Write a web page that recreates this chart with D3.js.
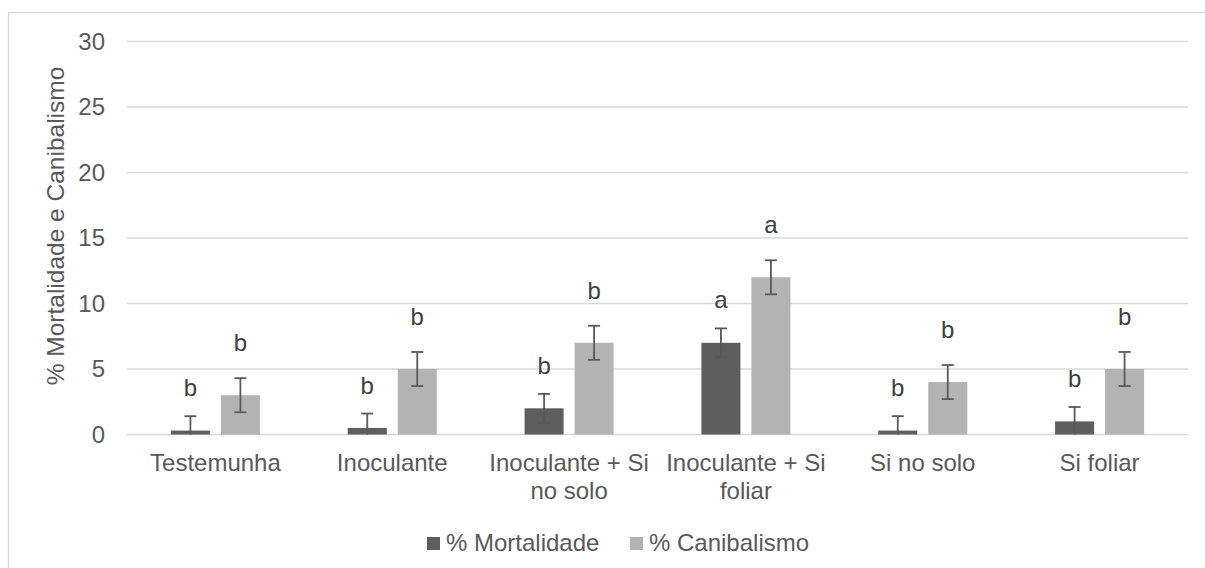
<!DOCTYPE html>
<html>
<head>
<meta charset="utf-8">
<script src="https://cdn.jsdelivr.net/npm/d3@7"></script>
<style>
  html, body { margin: 0; padding: 0; background: #fff; }
  svg { display: block; font-family: "Liberation Sans", Arial, sans-serif; }
</style>
</head>
<body>
<svg id="chart" width="1205" height="568"></svg>
<script>
// Treatments (x-axis categories); "\n" breaks a label onto two lines
const categories = ["Testemunha", "Inoculante", "Inoculante + Si\nno solo", "Inoculante + Si\nfoliar", "Si no solo", "Si foliar"];
const seriesNames = ["% Mortalidade", "% Canibalismo"];

// Means
const mortalidade = [0.3, 0.5, 2, 7, 0.3, 1];
const canibalismo = [3, 5, 7, 12, 4, 5];

// Error bar half-widths
const mortalidadeErr = [1.1, 1.1, 1.1, 1.1, 1.1, 1.1];
const canibalismoErr = [1.3, 1.3, 1.3, 1.3, 1.3, 1.3];

// Significance letters
const mortalidadeLetters = ["b", "b", "b", "a", "b", "b"];
const canibalismoLetters = ["b", "b", "b", "a", "b", "b"];

const yTicks = [0, 5, 10, 15, 20, 25, 30];

const colors = { "% Mortalidade": "#5e5e5e", "% Canibalismo": "#b3b3b3" };
const textColor = "#595959";
const gridColor = "#d9d9d9";
const fontSize = "24px";

const svg = d3.select("#chart");

// Chart frame
svg.append("rect")
  .attr("x", 8.5).attr("y", 12.5)
  .attr("width", 1220).attr("height", 600)
  .attr("fill", "none").attr("stroke", gridColor).attr("stroke-width", 1.3);

const plot = { left: 127, right: 1188, top: 41.5, bottom: 434.5 };

const x0 = d3.scaleBand().domain(categories).range([plot.left, plot.right]).padding(0);
const x1 = d3.scaleBand().domain(seriesNames).range([-44.5, 44.5]).paddingInner(0.22);
const y = d3.scaleLinear().domain([0, 30]).range([plot.bottom, plot.top]);

// Gridlines
svg.append("g")
  .selectAll("line").data(yTicks).join("line")
  .attr("x1", plot.left).attr("x2", plot.right)
  .attr("y1", d => y(d)).attr("y2", d => y(d))
  .attr("stroke", gridColor).attr("stroke-width", 1.6);

// Y axis labels
const yAxis = d3.axisLeft(y).tickValues(yTicks).tickSize(0).tickPadding(22);
const gy = svg.append("g").attr("transform", `translate(${plot.left},0)`).call(yAxis);
gy.select(".domain").remove();
gy.selectAll("text").attr("fill", textColor).style("font-size", fontSize)
  .style("font-family", "'Liberation Sans', Arial, sans-serif");

// Y axis title
svg.append("text")
  .attr("transform", "translate(64, 226) rotate(-90)")
  .attr("text-anchor", "middle")
  .attr("fill", textColor).style("font-size", "24.5px")
  .text("% Mortalidade e Canibalismo");

// X axis category labels
const gx = svg.append("g");
categories.forEach(c => {
  const lines = c.split("\n");
  const cxp = x0(c) + x0.bandwidth() / 2;
  const t = gx.append("text")
    .attr("x", cxp)
    .attr("y", 471)
    .attr("text-anchor", "middle")
    .attr("fill", textColor).style("font-size", fontSize);
  lines.forEach((ln, i) => {
    t.append("tspan").attr("x", cxp).attr("dy", i === 0 ? 0 : 27.5).text(ln);
  });
});

const series = [
  { name: "% Mortalidade", values: mortalidade, err: mortalidadeErr, letters: mortalidadeLetters, letterGap: 20 },
  { name: "% Canibalismo", values: canibalismo, err: canibalismoErr, letters: canibalismoLetters, letterGap: 27 }
];

series.forEach(s => {
  const g = svg.append("g");
  const rows = categories.map((c, i) => ({ c, v: s.values[i], e: s.err[i], l: s.letters[i] }));
  const cx = d => x0(d.c) + x0.bandwidth() / 2 + x1(s.name) + x1.bandwidth() / 2;

  // Bars
  g.selectAll("rect").data(rows).join("rect")
    .attr("x", d => x0(d.c) + x0.bandwidth() / 2 + x1(s.name))
    .attr("width", x1.bandwidth())
    .attr("y", d => y(d.v))
    .attr("height", d => y(0) - y(d.v))
    .attr("fill", colors[s.name]);

  // Error bars (clipped at zero)
  const eb = g.selectAll("g.err").data(rows).join("g").attr("class", "err");
  eb.append("line")
    .attr("x1", cx).attr("x2", cx)
    .attr("y1", d => y(d.v + d.e)).attr("y2", d => y(Math.max(0, d.v - d.e)))
    .attr("stroke", "#595959").attr("stroke-width", 1.8);
  eb.append("line")
    .attr("x1", d => cx(d) - 6).attr("x2", d => cx(d) + 6)
    .attr("y1", d => y(d.v + d.e)).attr("y2", d => y(d.v + d.e))
    .attr("stroke", "#595959").attr("stroke-width", 1.8);
  eb.filter(d => d.v - d.e >= 0).append("line")
    .attr("x1", d => cx(d) - 6).attr("x2", d => cx(d) + 6)
    .attr("y1", d => y(d.v - d.e)).attr("y2", d => y(d.v - d.e))
    .attr("stroke", "#595959").attr("stroke-width", 1.8);

  // Letters
  g.selectAll("text").data(rows).join("text")
    .attr("x", cx)
    .attr("y", d => y(d.v + d.e) - s.letterGap)
    .attr("text-anchor", "middle")
    .attr("fill", "#404040").style("font-size", fontSize)
    .text(d => d.l);
});

// Legend
const legendItems = [
  { name: "% Mortalidade", x: 427 },
  { name: "% Canibalismo", x: 630 }
];
const lg = svg.append("g");
legendItems.forEach(it => {
  lg.append("rect").attr("x", it.x).attr("y", 537).attr("width", 13).attr("height", 13)
    .attr("fill", colors[it.name]);
  lg.append("text").attr("x", it.x + 19).attr("y", 551)
    .attr("fill", textColor).style("font-size", fontSize).text(it.name);
});
</script>
</body>
</html>
